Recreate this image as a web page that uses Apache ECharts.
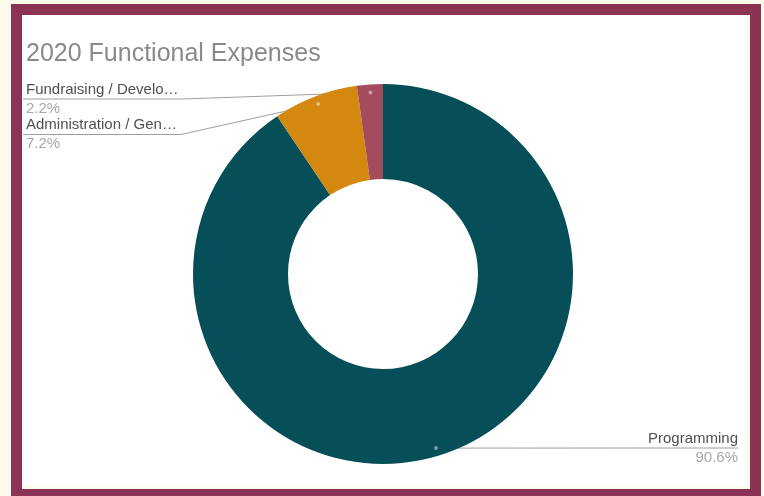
<!DOCTYPE html>
<html>
<head>
<meta charset="utf-8">
<script src="https://cdn.jsdelivr.net/npm/echarts@6/dist/echarts.min.js"></script>
<style>
  html, body { margin: 0; padding: 0; width: 764px; height: 496px; overflow: hidden; background: #FFFBEB; }
  .frame { position: absolute; left: 11px; top: 4px; width: 750px; height: 500px; background: #8A3354; }
  .cream { position: absolute; left: 22px; top: 15px; width: 728px; height: 474px; background: #FFFBEB; }
  .white { position: absolute; left: 22px; top: 15px; width: 725px; height: 471px; background: #FFFFFF; }
  #chart { position: absolute; left: 0; top: 0; width: 764px; height: 496px; }
</style>
</head>
<body>
<div class="frame"></div>
<div class="cream"></div>
<div class="white"></div>
<div id="chart"></div>
<script>
// ---- data ----
const categories = ['Programming', 'Administration / Gen…', 'Fundraising / Develo…'];
const shares = [90.6, 7.2, 2.2];
const sliceColors = ['#064F58', '#D4880F', '#A44B5E'];
const chartTitle = '2020 Functional Expenses';

// ---- layout (not data) ----
const CX = 383, CY = 274, R_OUT = 190, R_IN = 95, R_DOT = 182;
const LABEL_LINE_Y = [448, 134.5, 99];
const LEFT_X = 26, RIGHT_X = 738;

const total = shares.reduce((a, b) => a + b, 0);
const midPct = [];
let cum = 0;
shares.forEach(v => { midPct.push(cum + v / 2); cum += v; });

function anchorOf(i) {
  const th = midPct[i] / total * 2 * Math.PI;
  return [CX + R_DOT * Math.sin(th), CY - R_DOT * Math.cos(th)];
}

const FONT = 'Liberation Sans, Arial, sans-serif';
const chart = echarts.init(document.getElementById('chart'), null, { renderer: 'canvas' });
chart.setOption({
  backgroundColor: 'transparent',
  animation: false,
  title: {
    text: chartTitle,
    left: 26,
    top: 42,
    padding: 0,
    textStyle: { fontFamily: FONT, fontSize: 25, fontWeight: 'normal', color: '#8A8A8A' }
  },
  polar: { center: [CX, CY], radius: R_OUT },
  angleAxis: { type: 'value', min: 0, max: total, startAngle: 90, clockwise: true, show: false },
  radiusAxis: { type: 'value', min: 0, max: R_OUT, show: false },
  series: [
    {
      type: 'pie',
      center: [CX, CY],
      radius: [R_IN, R_OUT],
      startAngle: 90,
      clockwise: true,
      avoidLabelOverlap: false,
      data: categories.map((c, i) => ({ name: c, value: shares[i], itemStyle: { color: sliceColors[i] } })),
      label: {
        show: true,
        position: 'outside',
        formatter: p => '{n|' + p.name + '}\n{p|' + shares[p.dataIndex].toFixed(1) + '%}',
        rich: {
          n: { fontFamily: FONT, fontSize: 15, color: '#505050', lineHeight: 19 },
          p: { fontFamily: FONT, fontSize: 15, color: '#A8A8A8', lineHeight: 19 }
        }
      },
      labelLine: { show: true, lineStyle: { color: '#9E9E9E', width: 1 } },
      labelLayout: function (params) {
        const i = params.dataIndex;
        const a = anchorOf(i);
        const left = a[0] < CX;
        const ly = LABEL_LINE_Y[i];
        const w = params.labelRect.width;
        let pts;
        if (left) {
          pts = [a, [LEFT_X + w + 4, ly], [LEFT_X - 3, ly]];
        } else {
          pts = [a, [RIGHT_X - w - 4, ly], [RIGHT_X, ly]];
        }
        return {
          x: left ? LEFT_X : RIGHT_X,
          y: ly,
          align: left ? 'left' : 'right',
          verticalAlign: 'middle',
          labelLinePoints: pts
        };
      }
    },
    {
      type: 'scatter',
      coordinateSystem: 'polar',
      symbolSize: 4,
      silent: true,
      z: 5,
      itemStyle: { color: 'rgba(255,255,255,0.55)' },
      data: midPct.map(m => [R_DOT, m])
    }
  ]
});
</script>
</body>
</html>
